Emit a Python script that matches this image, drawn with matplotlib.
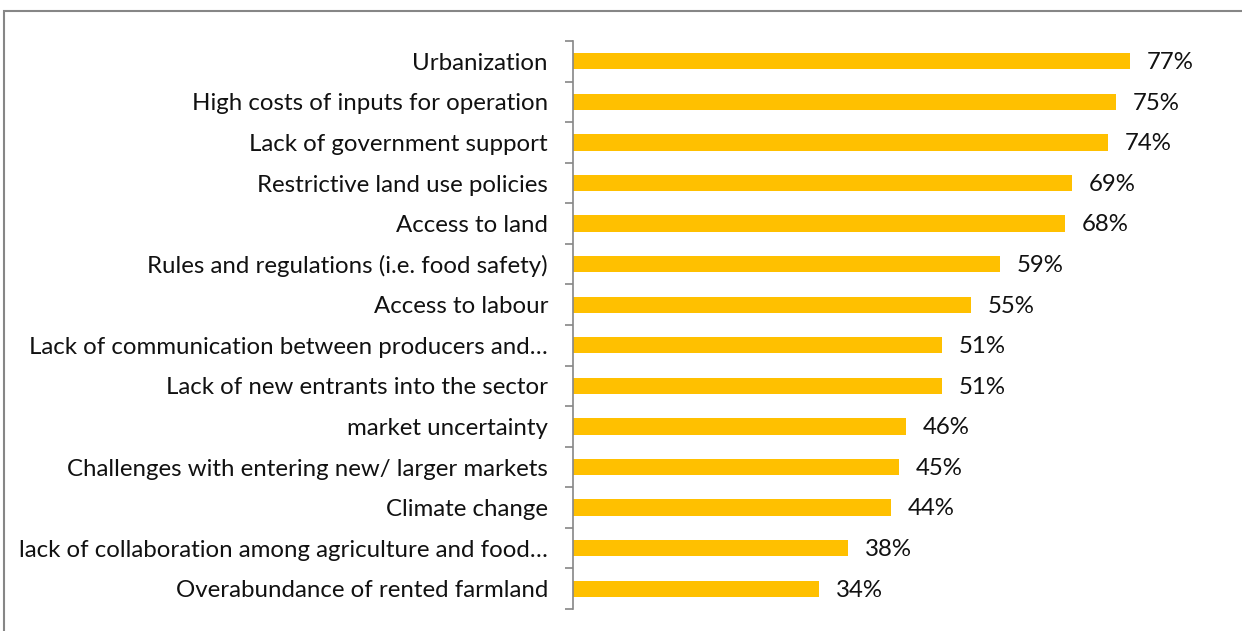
import matplotlib.pyplot as plt
import matplotlib.patches as patches

categories = [
    "Urbanization",
    "High costs of inputs for operation",
    "Lack of government support",
    "Restrictive land use policies",
    "Access to land",
    "Rules and regulations (i.e. food safety)",
    "Access to labour",
    "Lack of communication between producers and\u2026",
    "Lack of new entrants into the sector",
    "market uncertainty",
    "Challenges with entering new/ larger markets",
    "Climate change",
    "lack of collaboration among agriculture and food\u2026",
    "Overabundance of rented farmland",
]
values = [0.77, 0.75, 0.74, 0.69, 0.68, 0.59, 0.55, 0.51, 0.51, 0.46, 0.45, 0.44, 0.38, 0.34]

plt.rcParams['font.family'] = ['Lato', 'DejaVu Sans']
grey = '#868686'

fig = plt.figure(figsize=(12.42, 6.31), dpi=100)
ax = fig.add_axes([573 / 1242, 22 / 631, 649 / 1242, 568 / 631])

ypos = list(range(len(categories)))
ax.barh(ypos, values, height=0.4, color='#FFC000')
ax.set_ylim(len(categories) - 0.5, -0.5)
ax.set_xlim(0, 0.897)

for y, v in zip(ypos, values):
    ax.annotate(f"{v:.0%}", (v, y), xytext=(12, -1), textcoords='offset points',
                va='center', ha='left', fontsize=17.3, color='#111111')

# category labels between the boundary ticks
ax.set_yticks(ypos)
ax.set_yticklabels(categories, fontsize=17.3, color='#111111')
ax.tick_params(axis='y', which='major', length=0, pad=18)
ax.set_yticks([i - 0.5 for i in range(len(categories) + 1)], minor=True)
ax.tick_params(axis='y', which='minor', length=6, width=1.2, color=grey, direction='out')

ax.xaxis.set_visible(False)
for s in ['top', 'right', 'bottom']:
    ax.spines[s].set_visible(False)
ax.spines['left'].set_color(grey)
ax.spines['left'].set_linewidth(1.2)

# chart border
border = patches.Rectangle((3.5 / 1242, -0.05), 1.1, 620 / 631 + 0.05,
                           transform=fig.transFigure, fill=False,
                           edgecolor=grey, linewidth=1.5, clip_on=False)
fig.patches.append(border)

fig.savefig("out.png", dpi=100)
